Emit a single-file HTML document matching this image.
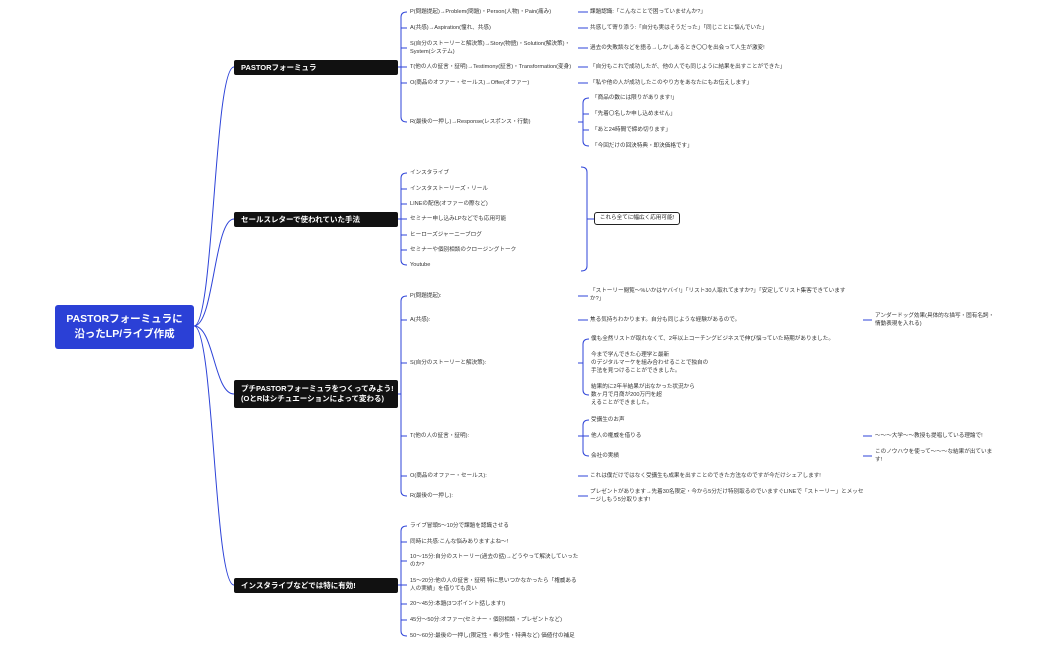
<!DOCTYPE html>
<html><head><meta charset="utf-8"><style>
body{margin:0;width:1049px;height:650px;background:#fff;position:relative;overflow:hidden;font-family:"Liberation Sans","Noto Sans CJK JP",sans-serif}
.t{position:absolute;font-size:5.6px;line-height:8px;color:#333;white-space:nowrap}
.b{position:absolute;background:#111;color:#fff;font-weight:bold;font-size:7.5px;border-radius:2px;left:234px;width:164px;display:flex;align-items:center;padding-left:7px;box-sizing:border-box;line-height:10px}
svg{position:absolute;left:0;top:0}
</style></head><body>
<svg width="1049" height="650" fill="none" stroke="#2d43d8" stroke-width="1">
<!-- root connectors -->
<path d="M194 326 C214 326 214 67 234 67"/>
<path d="M194 326 C214 326 214 219 234 219"/>
<path d="M194 326 C214 326 214 394 234 394"/>
<path d="M194 326 C214 326 214 585 234 585"/>
<!-- branch1 -->
<path d="M398 67 H401"/>
<path d="M407 12 Q401 12 401 17 V117 Q401 122 407 122"/>
<path d="M401 28 H407 M401 48 H407 M401 67 H407 M401 83 H407"/>
<path d="M578 12 H588 M578 28 H588 M578 48 H588 M578 67 H588 M578 83 H588 M578 122 H583"/>
<path d="M589 98 Q583 98 583 103 V141 Q583 146 589 146 M583 114 H589 M583 130 H589"/>
<!-- branch2 -->
<path d="M398 219 H401"/>
<path d="M407 173 Q401 173 401 178 V260 Q401 265 407 265"/>
<path d="M401 189 H407 M401 204 H407 M401 219 H407 M401 235 H407 M401 250 H407"/>
<path d="M581 167 Q587 167 587 172 V266 Q587 271 581 271 M587 219 H594" stroke="#2d43d8"/>
<!-- branch3 -->
<path d="M398 394 H401"/>
<path d="M407 296 Q401 296 401 301 V491 Q401 496 407 496"/>
<path d="M401 320 H407 M401 363 H407 M401 436 H407 M401 476 H407"/>
<path d="M578 296 H588 M578 320 H588 M578 476 H588 M578 496 H588 M578 363 H583 M578 436 H583"/>
<path d="M589 339 Q583 339 583 344 V390 Q583 395 589 395"/>
<path d="M589 420 Q583 420 583 425 V451 Q583 456 589 456 M583 436 H589"/>
<path d="M863 320 H872 M863 436 H872 M863 456 H872"/>
<!-- branch4 -->
<path d="M398 585 H401"/>
<path d="M407 526 Q401 526 401 531 V631 Q401 636 407 636"/>
<path d="M401 542 H407 M401 561 H407 M401 585 H407 M401 604 H407 M401 620 H407"/>
</svg>

<div style="position:absolute;left:55px;top:305px;width:139px;height:44px;background:#2b40d6;border-radius:3px;color:#fff;font-weight:bold;font-size:10.5px;line-height:15px;text-align:center;display:flex;align-items:center;justify-content:center">PASTORフォーミュラに<br>沿ったLP/ライブ作成</div>

<div class="b" style="top:60px;height:15px">PASTORフォーミュラ</div>
<div class="b" style="top:212px;height:15px">セールスレターで使われていた手法</div>
<div class="b" style="top:380px;height:28px">プチPASTORフォーミュラをつくってみよう!<br>(OとRはシチュエーションによって変わる)</div>
<div class="b" style="top:578px;height:15px">インスタライブなどでは特に有効!</div>

<div style="position:absolute;left:594px;top:212px;width:86px;height:13px;border:1px solid #222;border-radius:3px;box-sizing:border-box;font-size:5.6px;line-height:11px;text-align:center;color:#222">これら全てに幅広く応用可能!</div>

<!-- branch1 texts -->
<div class="t" style="left:410px;top:8px">P(問題提起)→Problem(問題)・Person(人物)・Pain(痛み)</div>
<div class="t" style="left:410px;top:24px">A(共感)→Aspiration(憧れ、共感)</div>
<div class="t" style="left:410px;top:40px">S(自分のストーリーと解決策)→Story(物語)・Solution(解決策)・<br>System(システム)</div>
<div class="t" style="left:410px;top:63px">T(他の人の証言・証明)→Testimony(証言)・Transformation(変身)</div>
<div class="t" style="left:410px;top:79px">O(商品のオファー・セールス)→Offer(オファー)</div>
<div class="t" style="left:410px;top:118px">R(最後の一押し)→Response(レスポンス・行動)</div>
<div class="t" style="left:590px;top:8px">課題認識:「こんなことで困っていませんか?」</div>
<div class="t" style="left:590px;top:24px">共感して寄り添う:「自分も実はそうだった」「同じことに悩んでいた」</div>
<div class="t" style="left:590px;top:44px">過去の失敗談などを語る→しかしあるとき〇〇を出会って人生が激変!</div>
<div class="t" style="left:590px;top:63px">「自分もこれで成功したが、他の人でも同じように結果を出すことができた」</div>
<div class="t" style="left:590px;top:79px">「私や他の人が成功したこのやり方をあなたにもお伝えします」</div>
<div class="t" style="left:592px;top:94px">「商品の数には限りがあります!」</div>
<div class="t" style="left:592px;top:110px">「先着〇名しか申し込めません」</div>
<div class="t" style="left:592px;top:126px">「あと24時間で締め切ります」</div>
<div class="t" style="left:592px;top:142px">「今回だけの回決特典・即決価格です」</div>

<!-- branch2 -->
<div class="t" style="left:410px;top:169px">インスタライブ</div>
<div class="t" style="left:410px;top:185px">インスタストーリーズ・リール</div>
<div class="t" style="left:410px;top:200px">LINEの配信(オファーの際など)</div>
<div class="t" style="left:410px;top:215px">セミナー申し込みLPなどでも応用可能</div>
<div class="t" style="left:410px;top:231px">ヒーローズジャーニーブログ</div>
<div class="t" style="left:410px;top:246px">セミナーや個別相談のクロージングトーク</div>
<div class="t" style="left:410px;top:261px">Youtube</div>

<!-- branch3 -->
<div class="t" style="left:410px;top:292px">P(問題提起):</div>
<div class="t" style="left:410px;top:316px">A(共感):</div>
<div class="t" style="left:410px;top:359px">S(自分のストーリーと解決策):</div>
<div class="t" style="left:410px;top:432px">T(他の人の証言・証明):</div>
<div class="t" style="left:410px;top:472px">O(商品のオファー・セールス):</div>
<div class="t" style="left:410px;top:492px">R(最後の一押し):</div>
<div class="t" style="left:590px;top:287px">「ストーリー閲覧〜%いかはヤバイ!」「リスト30人取れてますか?」「安定してリスト集客できています<br>か?」</div>
<div class="t" style="left:590px;top:316px">焦る気持ちわかります。自分も同じような経験があるので。</div>
<div class="t" style="left:591px;top:335px">僕も全然リストが取れなくて、2年以上コーチングビジネスで伸び悩っていた時期がありました。</div>
<div class="t" style="left:591px;top:351px">今まで学んできた心理学と最新<br>のデジタルマーケを組み合わせることで独自の<br>手法を見つけることができました。</div>
<div class="t" style="left:591px;top:383px">結果的に2年半結果が出なかった状況から<br>数ヶ月で月商が200万円を超<br>えることができました。</div>
<div class="t" style="left:591px;top:416px">受講生のお声</div>
<div class="t" style="left:591px;top:432px">他人の権威を借りる</div>
<div class="t" style="left:591px;top:452px">会社の実績</div>
<div class="t" style="left:590px;top:472px">これは僕だけではなく受講生も成果を出すことのできた方法なのですが今だけシェアします!</div>
<div class="t" style="left:590px;top:488px">プレゼントがあります→先着30名限定・今から5分だけ特別取るのでいますぐLINEで「ストーリー」とメッセ<br>ージしもう5分取ります!</div>
<div class="t" style="left:875px;top:312px">アンダードッグ効果(具体的な描写・固有名詞・<br>情動表現を入れる)</div>
<div class="t" style="left:875px;top:432px">〜〜〜大学〜〜教授も提唱している理論で!</div>
<div class="t" style="left:875px;top:448px">このノウハウを使って〜〜〜な結果が出ていま<br>す!</div>

<!-- branch4 -->
<div class="t" style="left:410px;top:522px">ライブ冒頭5〜10分で課題を認識させる</div>
<div class="t" style="left:410px;top:538px">同時に共感:こんな悩みありますよね〜!</div>
<div class="t" style="left:410px;top:553px">10〜15分:自分のストーリー(過去の話)→どうやって解決していった<br>のか?</div>
<div class="t" style="left:410px;top:577px">15〜20分:他の人の証言・証明 特に思いつかなかったら「権威ある<br>人の実績」を借りても良い</div>
<div class="t" style="left:410px;top:600px">20〜45分:本題(3つポイント話します!)</div>
<div class="t" style="left:410px;top:616px">45分〜50分:オファー(セミナー・個別相談・プレゼントなど)</div>
<div class="t" style="left:410px;top:632px">50〜60分:最後の一押し(限定性・希少性・特典など) 価値付の補足</div>
</body></html>
